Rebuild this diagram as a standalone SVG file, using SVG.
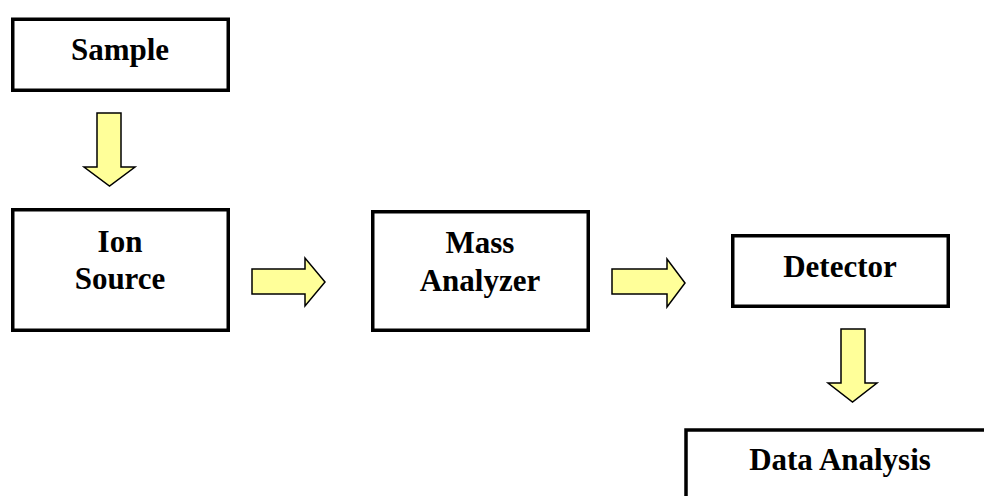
<svg xmlns="http://www.w3.org/2000/svg" width="984" height="496" viewBox="0 0 984 496">
<style>
.box{fill:#ffffff;stroke:#000000;stroke-width:3.5}
.lbl{font-family:"Liberation Serif","Times New Roman",serif;font-weight:bold;font-size:31px;fill:#000000;text-anchor:middle}
.arr{fill:#ffff99;stroke:#000000;stroke-width:1.5;stroke-linejoin:miter}
</style>
<rect width="984" height="496" fill="#ffffff"/>
<g id="sample">
<rect class="box" x="12.75" y="19.25" width="215.5" height="71"/>
<text class="lbl" x="120" y="60">Sample</text>
</g>
<g id="ion-source">
<rect class="box" x="12.75" y="209.75" width="215.5" height="120.5"/>
<text class="lbl" x="120" y="252">Ion</text>
<text class="lbl" x="120" y="289">Source</text>
</g>
<g id="mass-analyzer">
<rect class="box" x="372.75" y="211.75" width="215.5" height="118.5"/>
<text class="lbl" x="480" y="253">Mass</text>
<text class="lbl" x="480" y="291">Analyzer</text>
</g>
<g id="detector">
<rect class="box" x="732.75" y="235.75" width="215.5" height="70.5"/>
<text class="lbl" x="840" y="277">Detector</text>
</g>
<g id="data-analysis">
<rect class="box" x="686" y="430" width="310" height="100"/>
<text class="lbl" x="840" y="470">Data Analysis</text>
</g>
<g id="connectors">
<polygon class="arr" points="97,113 121,113 121,167 135,167 109.5,186 84,167 97,167"/>
<polygon class="arr" points="252,269 305,269 305,258 325,282 305,306 305,294 252,294"/>
<polygon class="arr" points="612,269 667,269 667,259 685,283 667,307 667,294 612,294"/>
<polygon class="arr" points="841,329 865,329 865,383 877,383 852.5,402 828,383 841,383"/>
</g>
</svg>
